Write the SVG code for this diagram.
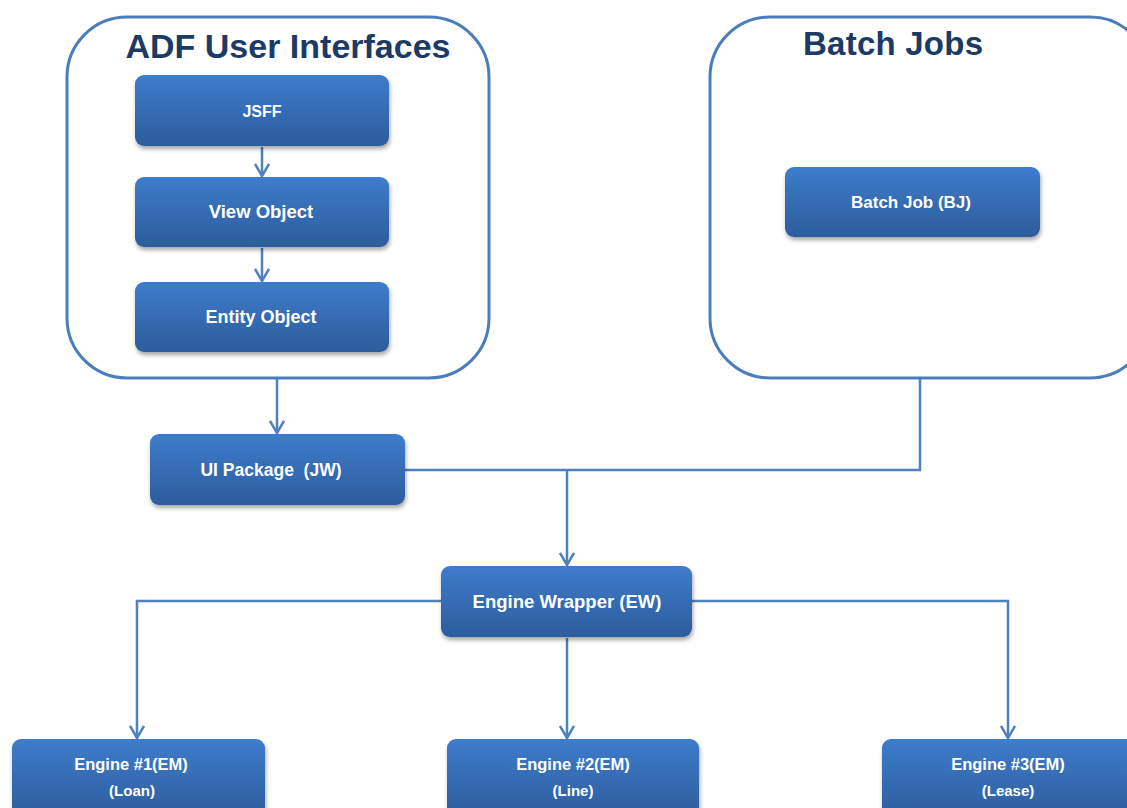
<svg xmlns="http://www.w3.org/2000/svg" width="1127" height="808" viewBox="0 0 1127 808">
<style>
.cont{fill:#fff;stroke:#4A7EBB;stroke-width:3}
.title{font-family:"Liberation Sans",Arial,sans-serif;font-weight:bold;fill:#1B3A66}
.box{fill:url(#g);filter:url(#sh)}
.lbl{font-family:"Liberation Sans",Arial,sans-serif;font-weight:bold;fill:#fff;text-anchor:middle}
.con{fill:none;stroke:#4F81BD;stroke-width:2.5}
</style>
<defs>
<linearGradient id="g" x1="0" y1="0" x2="0" y2="1">
<stop offset="0" stop-color="#3E7CCB"/>
<stop offset="1" stop-color="#2C5D9C"/>
</linearGradient>
<filter id="sh" x="-10%" y="-10%" width="120%" height="130%">
<feDropShadow dx="1" dy="3" stdDeviation="2" flood-color="#000" flood-opacity="0.35"/>
</filter>
<marker id="arr" markerWidth="16" markerHeight="16" refX="13" refY="8" orient="auto" markerUnits="userSpaceOnUse" viewBox="0 0 16 16">
<path d="M1,1 L13,8 L1,15" fill="none" stroke="#4F81BD" stroke-width="2.5"/>
</marker>
</defs>
<rect width="1127" height="808" fill="#fff"/>

<g id="adf">
<rect class="cont" x="67" y="17" width="422" height="361" rx="60"/>
<text class="title" x="288" y="58" text-anchor="middle" font-size="34" textLength="325">ADF User Interfaces</text>
</g>
<g id="batch">
<rect class="cont" x="710" y="17" width="440" height="361" rx="60"/>
<text class="title" x="893" y="55" text-anchor="middle" font-size="33" textLength="180">Batch Jobs</text>
</g>

<g id="connectors">
<path class="con" d="M262,147 V176" marker-end="url(#arr)"/>
<path class="con" d="M262,248 V281" marker-end="url(#arr)"/>
<path class="con" d="M277,379 V433" marker-end="url(#arr)"/>
<path class="con" d="M920,379 V470 H405"/>
<path class="con" d="M567,470 V565" marker-end="url(#arr)"/>
<path class="con" d="M441,601 H137 V738" marker-end="url(#arr)"/>
<path class="con" d="M692,601 H1008 V738" marker-end="url(#arr)"/>
<path class="con" d="M567,638 V738" marker-end="url(#arr)"/>
</g>

<g id="jsff">
<rect class="box" x="135" y="75" width="254" height="71" rx="9"/>
<text class="lbl" x="262" y="117" font-size="16">JSFF</text>
</g>
<g id="viewobject">
<rect class="box" x="135" y="177" width="254" height="70" rx="9"/>
<text class="lbl" x="261" y="218" font-size="18.5">View Object</text>
</g>
<g id="entityobject">
<rect class="box" x="135" y="282" width="254" height="70" rx="9"/>
<text class="lbl" x="261" y="323" font-size="18">Entity Object</text>
</g>
<g id="batchjob">
<rect class="box" x="785" y="167" width="255" height="70" rx="9"/>
<text class="lbl" x="911" y="208" font-size="17">Batch Job (BJ)</text>
</g>
<g id="uipackage">
<rect class="box" x="150" y="434" width="255" height="71" rx="9"/>
<text class="lbl" x="271" y="476" xml:space="preserve" font-size="17.5">UI Package  (JW)</text>
</g>
<g id="enginewrapper">
<rect class="box" x="441" y="566" width="251" height="71" rx="9"/>
<text class="lbl" x="567" y="608" font-size="18.5">Engine Wrapper (EW)</text>
</g>
<g id="engine1">
<rect class="box" x="12" y="739" width="253" height="80" rx="9"/>
<text class="lbl" x="131" y="770" font-size="16.5">Engine #1(EM)</text>
<text class="lbl" x="132" y="796" font-size="15">(Loan)</text>
</g>
<g id="engine2">
<rect class="box" x="447" y="739" width="252" height="80" rx="9"/>
<text class="lbl" x="573" y="770" font-size="16.5">Engine #2(EM)</text>
<text class="lbl" x="573" y="796" font-size="15">(Line)</text>
</g>
<g id="engine3">
<rect class="box" x="882" y="739" width="260" height="80" rx="9"/>
<text class="lbl" x="1008" y="770" font-size="16.5">Engine #3(EM)</text>
<text class="lbl" x="1008" y="796" font-size="15">(Lease)</text>
</g>
</svg>
